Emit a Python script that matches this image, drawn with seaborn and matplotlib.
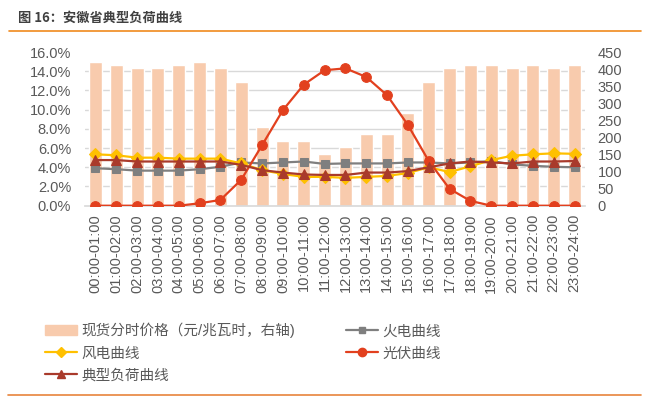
import numpy as np
import pandas as pd
import seaborn as sns
import matplotlib.pyplot as plt
from matplotlib.ticker import PercentFormatter
from matplotlib.lines import Line2D

hours = [f"{h:02d}:00-{h + 1:02d}:00" for h in range(24)]

# spot price, yuan/MWh (right axis)
price = [421, 412, 403, 403, 412, 421, 403, 362, 230, 189, 189, 151,
         172, 210, 210, 271, 362, 403, 412, 412, 403, 412, 403, 412]

# share curves, % (left axis)
thermal = [3.9, 3.8, 3.65, 3.65, 3.65, 3.8, 4.05, 4.5, 4.4, 4.5, 4.6, 4.35,
           4.4, 4.4, 4.4, 4.5, 4.5, 4.4, 4.5, 4.65, 4.3, 4.15, 4.05, 4.0]
wind = [5.35, 5.25, 5.0, 5.0, 4.9, 4.9, 4.9, 4.4, 3.7, 3.3, 3.0, 3.0,
        2.9, 3.0, 3.1, 3.4, 4.0, 3.5, 4.1, 4.75, 5.2, 5.35, 5.45, 5.4]
pv = [0, 0, 0, 0, 0, 0.25, 0.6, 2.7, 6.3, 9.95, 12.6, 14.1,
      14.3, 13.4, 11.5, 8.4, 4.65, 1.75, 0.5, 0, 0, 0, 0, 0]
load = [4.75, 4.75, 4.6, 4.6, 4.6, 4.6, 4.6, 4.25, 3.7, 3.45, 3.25, 3.2,
        3.2, 3.45, 3.45, 3.6, 4.0, 4.4, 4.6, 4.5, 4.4, 4.6, 4.6, 4.65]

df = pd.DataFrame({"hour": hours, "price": price, "thermal": thermal,
                   "wind": wind, "pv": pv, "load": load})
df["pos"] = range(len(df))

sns.set_theme(style="white")
plt.rcParams["font.family"] = ["Liberation Sans", "Noto Sans CJK SC"]
txt = "#595959"

fig = plt.figure(figsize=(6.54, 3.99), dpi=100)
ax = fig.add_axes([85 / 654, 1 - 205.7 / 399, 500 / 654, 153.7 / 399])

# bars on the price scale
bar_col = "#F8CBAD"
sns.barplot(data=df, x="hour", y="price", ax=ax, color=bar_col,
            saturation=1, width=0.62, zorder=2)
ax.set_ylim(0, 450)
ax.set_yticks(range(0, 451, 50))
ax.set_yticks(np.linspace(0, 450, 9), minor=True)
ax.grid(which="minor", axis="y", color="#D9D9D9", linewidth=1, zorder=0)
ax.set_axisbelow(True)
ax.tick_params(axis="x", length=0, pad=6, labelsize=10.5, labelcolor=txt,
               rotation=90)
ax.set_xlabel("")
ax.set_ylabel("")
for s in ["top", "left", "right"]:
    ax.spines[s].set_visible(False)
ax.spines["bottom"].set_color("#D9D9D9")

# share lines on the percent scale
axl = ax.twinx()
series = [("thermal", "火电曲线", "#7F7F7F", "s", 6),
          ("wind", "风电曲线", "#FFC000", "D", 6),
          ("pv", "光伏曲线", "#E2401E", "o", 7),
          ("load", "典型负荷曲线", "#A93A2B", "^", 7)]
for col, name, c, m, ms in series:
    sns.lineplot(data=df, x="pos", y=col, ax=axl, color=c, marker=m,
                 markersize=ms, markeredgecolor=c, linewidth=1.6)
axl.set_ylim(0, 16)
axl.set_yticks(range(0, 17, 2))
axl.yaxis.set_major_formatter(PercentFormatter(100, decimals=1))
axl.set_ylabel("")
axl.set_xlabel("")
for s in axl.spines.values():
    s.set_visible(False)
ax.set_xlim(-0.5, 23.5)

# swap sides: price ticks right, percent ticks left
ax.yaxis.tick_right()
axl.yaxis.tick_left()
ax.tick_params(axis="y", which="both", length=0, pad=9, labelsize=10.5,
               labelcolor=txt)
axl.tick_params(axis="y", length=0, pad=10, labelsize=10.5, labelcolor=txt)

# legend
h_bar = plt.Rectangle((0, 0), 1, 1, color=bar_col)
lk = {col: Line2D([], [], color=c, marker=m, markersize=ms - 1,
                  markeredgecolor=c, linewidth=1.6)
      for col, name, c, m, ms in series}
handles = [h_bar, lk["wind"], lk["load"], lk["thermal"], lk["pv"]]
labels = ["现货分时价格（元/兆瓦时，右轴)", "风电曲线", "典型负荷曲线",
          "火电曲线", "光伏曲线"]
fig.legend(handles, labels, ncol=2, frameon=False, loc="upper left",
           bbox_to_anchor=(45 / 654, 1 - 323 / 399), borderpad=0,
           borderaxespad=0, handlelength=2.2, handletextpad=0.3,
           columnspacing=3.45, labelspacing=0.55, fontsize=10.5,
           labelcolor=txt)

# title and rules
fig.text(18 / 654, 1 - 18 / 399, "图 16：安徽省典型负荷曲线", fontsize=9.5,
         fontweight="bold", color="#404040", va="center",
         family=["Noto Sans CJK SC"])
fig.add_artist(Line2D([9 / 654, 641 / 654], [1 - 30.5 / 399] * 2,
                      color="#F08A1E", linewidth=1.2))
fig.add_artist(Line2D([8 / 654, 641 / 654], [1 - 395 / 399] * 2,
                      color="#E8843C", linewidth=1.2))

fig.savefig("out.png", dpi=100)
